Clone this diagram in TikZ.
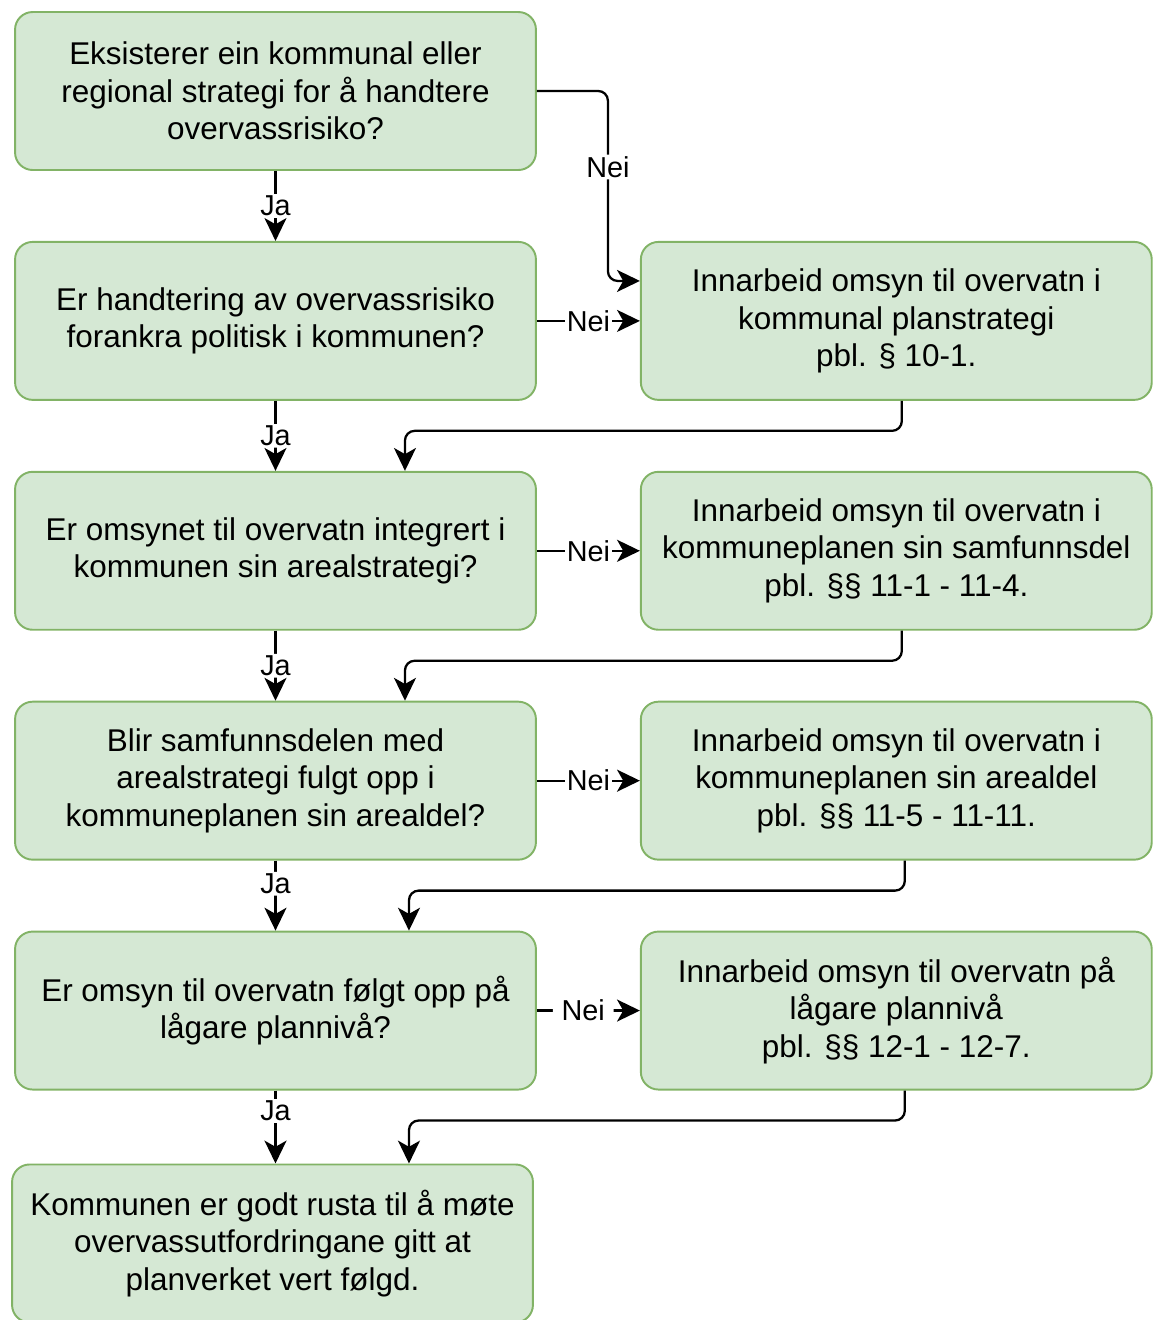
\documentclass[tikz,border=0pt]{standalone}
\usepackage{fontspec}
\setmainfont{Liberation Sans}
\usetikzlibrary{positioning,arrows.meta}
\definecolor{boxfill}{HTML}{D5E8D4}
\definecolor{boxline}{HTML}{82B366}

\begin{document}
\begin{tikzpicture}[
  x=0.02cm, y=-0.02cm,
  node distance=1.40cm and 2.06cm,
  box/.style={draw=boxline, fill=boxfill, line width=1.1pt, rounded corners=10pt,
              minimum height=3.16cm, align=center,
              font=\fontsize{17.9}{21.3}\selectfont},
  qbox/.style={box, minimum width=10.42cm},
  abox/.style={box, minimum width=10.22cm},
  conn/.style={draw, line width=1.3pt, rounded corners=5.5pt,
               -{Stealth[length=13pt,width=12.5pt,inset=3.5pt]}},
  lbl/.style={fill=white, inner sep=1pt, font=\fontsize{16.4}{19.7}\selectfont}
]
\useasboundingbox (0,0) rectangle (1153,1320);

\node[qbox] (q1) at (275.5,91) {Eksisterer ein kommunal eller\\regional strategi for å handtere\\overvassrisiko?};
\node[qbox, below=of q1] (q2) {Er handtering av overvassrisiko\\forankra politisk i kommunen?};
\node[qbox, below=of q2] (q3) {Er omsynet til overvatn integrert i\\kommunen sin arealstrategi?};
\node[qbox, below=of q3] (q4) {Blir samfunnsdelen med\\arealstrategi fulgt opp i\\kommuneplanen sin arealdel?};
\node[qbox, below=of q4] (q5) {Er omsyn til overvatn følgt opp på\\lågare plannivå?};
\node[qbox, below=1.46cm of q5, xshift=-0.06cm] (q6) {Kommunen er godt rusta til å møte\\overvassutfordringane gitt at\\planverket vert følgd.};

\node[abox, right=of q2] (a2) {Innarbeid omsyn til overvatn i\\kommunal planstrategi\\pbl. § 10-1.};
\node[abox, right=of q3] (a3) {Innarbeid omsyn til overvatn i\\kommuneplanen sin samfunnsdel\\pbl. §§ 11-1 - 11-4.};
\node[abox, right=of q4] (a4) {Innarbeid omsyn til overvatn i\\kommuneplanen sin arealdel\\pbl. §§ 11-5 - 11-11.};
\node[abox, right=of q5] (a5) {Innarbeid omsyn til overvatn på\\lågare plannivå\\pbl. §§ 12-1 - 12-7.};

\draw[conn] (q1) -- node[lbl] {Ja} (q2);
\draw[conn] (q2) -- node[lbl] {Ja} (q3);
\draw[conn] (q3) -- node[lbl] {Ja} (q4);
\draw[conn] (q4) -- node[lbl, pos=0.33] {Ja} (q5);
\draw[conn] (q5.south) -- node[lbl, pos=0.28] {Ja} (q5.south |- q6.north);

\draw[conn] (q1.east) -- ++(71,0) |- node[lbl, pos=0.2] {Nei} ([yshift=-0.8cm]a2.north west);
\draw[conn] (q2) -- node[lbl] {Nei} (a2);
\draw[conn] (q3) -- node[lbl] {Nei} (a3);
\draw[conn] (q4) -- node[lbl] {Nei} (a4);
\draw[conn] (q5) -- node[lbl, inner xsep=5pt, pos=0.45] {Nei} (a5);

\draw[conn] ([xshift=0.11cm]a2.south) -- ++(0,30) -| ([xshift=2.59cm]q3.north);
\draw[conn] ([xshift=0.11cm]a3.south) -- ++(0,30) -| ([xshift=2.59cm]q4.north);
\draw[conn] ([xshift=0.17cm]a4.south) -- ++(0,30) -| ([xshift=2.67cm]q5.north);
\draw[conn] ([xshift=0.17cm]a5.south) -- ++(0,30) -| ([xshift=2.67cm]q5.south |- q6.north);
\end{tikzpicture}
\end{document}
